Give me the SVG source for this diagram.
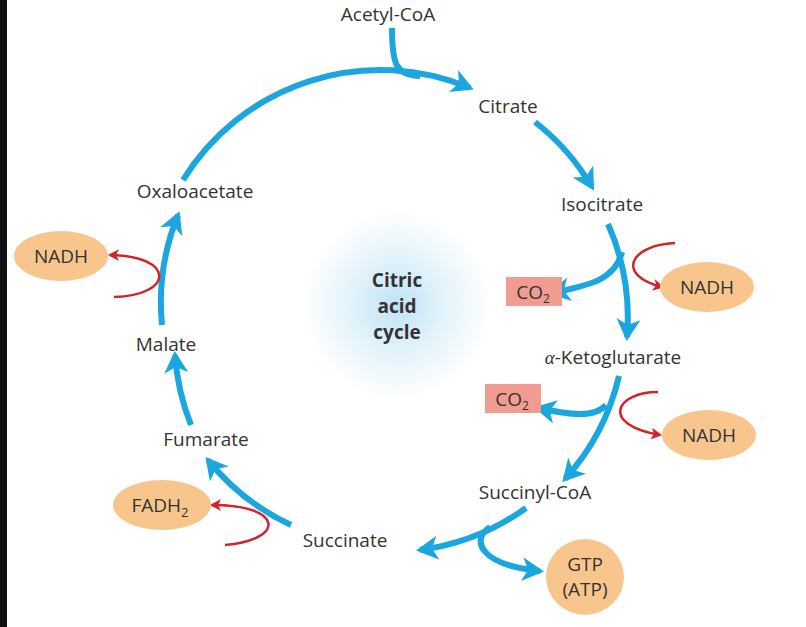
<svg xmlns="http://www.w3.org/2000/svg" width="806" height="627" viewBox="0 0 806 627">
<defs>
<style>
.t{font-family:"Open Sans","Liberation Sans",sans-serif;font-size:19px;fill:#333;text-anchor:middle}
.b{fill:none;stroke:#1ba6e0;stroke-width:6;stroke-linecap:butt}
.r{fill:none;stroke:#d2232a;stroke-width:2.5}
.e{fill:#f8c68c}
.c{fill:#f29b91}
</style>
<marker id="ab" markerUnits="userSpaceOnUse" markerWidth="26" markerHeight="24" refX="18" refY="12" orient="auto"><path d="M0,0 L22,12 L0,24 L6,12 Z" fill="#1ba6e0"/></marker>
<marker id="ar" markerUnits="userSpaceOnUse" markerWidth="12" markerHeight="12" refX="9" refY="6" orient="auto"><path d="M0,0 L11,6 L0,12 L3,6 Z" fill="#d2232a"/></marker>
<radialGradient id="g"><stop offset="0" stop-color="#bfe3f5"/><stop offset="0.5" stop-color="#e3f3fb"/><stop offset="1" stop-color="#fff"/></radialGradient>
</defs>
<rect width="806" height="627" fill="#fff"/>
<rect width="7" height="627" fill="#111"/>
<circle cx="397" cy="305" r="95" fill="url(#g)"/>
<g id="connectors">
<path class="b" d="M183,180 A232,232 0 0 1 470,88" marker-end="url(#ab)"/>
<path class="b" d="M392,28 C392,65 396,75 420,76"/>
<path class="b" d="M535,122 A232,232 0 0 1 592,187" marker-end="url(#ab)"/>
<path class="b" d="M608,224 A232,232 0 0 1 627,337" marker-end="url(#ab)"/>
<path class="b" d="M622,252 C615,280 590,285 552,293" marker-end="url(#ab)"/>
<path class="r" d="M675,243 C630,245 615,275 662,287" marker-end="url(#ar)"/>
<path class="b" d="M619,376 A232,232 0 0 1 565,479" marker-end="url(#ab)"/>
<path class="b" d="M606,405 C595,418 570,415 538,408" marker-end="url(#ab)"/>
<path class="r" d="M658,392 C615,392 600,425 660,435" marker-end="url(#ar)"/>
<path class="b" d="M526,508 A232,232 0 0 1 420,550" marker-end="url(#ab)"/>
<path class="b" d="M490,527 C470,540 480,565 540,571" marker-end="url(#ab)"/>
<path class="b" d="M291,525 A232,232 0 0 1 208,460" marker-end="url(#ab)"/>
<path class="r" d="M225,545 C285,540 285,505 212,505" marker-end="url(#ar)"/>
<path class="b" d="M191,425 A232,232 0 0 1 175,355" marker-end="url(#ab)"/>
<path class="b" d="M162,325 A232,232 0 0 1 178,215" marker-end="url(#ab)"/>
<path class="r" d="M114,297 C175,295 175,256 110,255" marker-end="url(#ar)"/>
</g>
<g id="acetyl"><text class="t" x="388" y="21">Acetyl-CoA</text></g>
<g id="citrate"><text class="t" x="508" y="113">Citrate</text></g>
<g id="isocitrate"><text class="t" x="602" y="211">Isocitrate</text></g>
<g id="akg"><text class="t" x="613" y="364"><tspan font-family="Liberation Serif" font-style="italic">α</tspan>-Ketoglutarate</text></g>
<g id="succinylcoa"><text class="t" x="535" y="499">Succinyl-CoA</text></g>
<g id="succinate"><text class="t" x="345" y="547">Succinate</text></g>
<g id="fumarate"><text class="t" x="206" y="446">Fumarate</text></g>
<g id="malate"><text class="t" x="166" y="351">Malate</text></g>
<g id="oxaloacetate"><text class="t" x="195" y="198">Oxaloacetate</text></g>
<g id="center"><text class="t" x="397" y="287" font-weight="bold" font-size="18">Citric</text><text class="t" x="397" y="313" font-weight="bold" font-size="18">acid</text><text class="t" x="397" y="339" font-weight="bold" font-size="18">cycle</text></g>
<g id="co2a"><rect class="c" x="506" y="277" width="56" height="29"/><text class="t" x="533" y="299" font-size="17">CO<tspan font-size="12" dy="4">2</tspan></text></g>
<g id="nadh1"><ellipse class="e" cx="707" cy="287" rx="47" ry="25"/><text class="t" x="707" y="294">NADH</text></g>
<g id="co2b"><rect class="c" x="485" y="384" width="56" height="29"/><text class="t" x="512" y="406" font-size="17">CO<tspan font-size="12" dy="4">2</tspan></text></g>
<g id="nadh2"><ellipse class="e" cx="709" cy="435" rx="47" ry="25"/><text class="t" x="709" y="442">NADH</text></g>
<g id="gtp"><ellipse class="e" cx="585" cy="577" rx="39" ry="38"/><text class="t" x="585" y="571">GTP</text><text class="t" x="585" y="596">(ATP)</text></g>
<g id="fadh2"><ellipse class="e" cx="162" cy="505" rx="49" ry="25"/><text class="t" x="160" y="512">FADH<tspan font-size="13" dy="5">2</tspan></text></g>
<g id="nadh3"><ellipse class="e" cx="61" cy="256" rx="47" ry="25"/><text class="t" x="61" y="263">NADH</text></g>
</svg>
